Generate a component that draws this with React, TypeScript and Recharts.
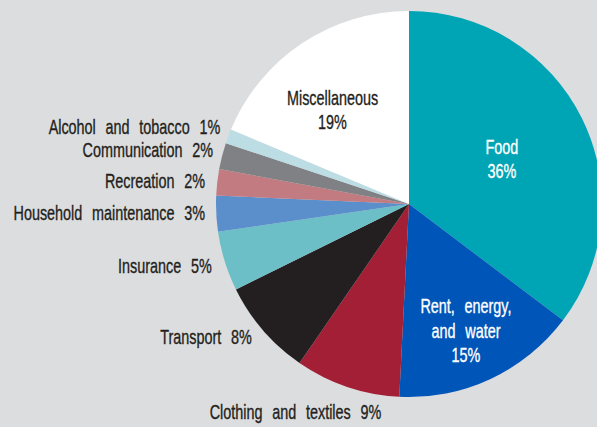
import { PieChart, Pie, Cell } from "recharts";

const CATEGORIES = [
  "Food",
  "Rent, energy, and water",
  "Clothing and textiles",
  "Transport",
  "Insurance",
  "Household maintenance",
  "Recreation",
  "Communication",
  "Alcohol and tobacco",
  "Miscellaneous",
];
// slice sizes as drawn
const SHARES = [35.3, 15.5, 8.8, 8.1, 5.0, 3.0, 2.2, 2.2, 1.2, 18.7];
// percentages as printed on the labels
const LABEL_PCT = [36, 15, 9, 8, 5, 3, 2, 2, 1, 19];
const COLORS = [
  "#00a5b5",
  "#0055b8",
  "#a31f36",
  "#231f20",
  "#6cbfc6",
  "#5b8fcb",
  "#c27b80",
  "#7f8184",
  "#bcdde3",
  "#ffffff",
];

const data = CATEGORIES.map((name, i) => ({ name, value: SHARES[i], pct: LABEL_PCT[i] }));

const FONT = "'Liberation Sans', Arial, sans-serif";
const FONT_SIZE = 20;
const SQUEEZE = 0.72;
const WORD_GAP = 8;
const RAD = Math.PI / 180;

// inside labels: radius factor, line breaks, nudge
const INSIDE: Record<string, { f: number; lines: string[]; color: string; dx: number; dy: number }> = {
  Food: { f: 0.535, lines: ["Food"], color: "#ffffff", dx: 0.5, dy: 1 },
  "Rent, energy, and water": {
    f: 0.72,
    lines: ["Rent, energy,", "and water"],
    color: "#ffffff",
    dx: -1.8,
    dy: 0.7,
  },
  Miscellaneous: { f: 0.628, lines: ["Miscellaneous"], color: "#231f20", dx: -9.3, dy: 6.9 },
};
// outside labels: nudge from the point just past the rim
const NUDGE: Record<string, [number, number, string]> = {
  "Clothing and textiles": [-49, 17.6, "middle"],
  Transport: [-5.2, 1.6, "end"],
  Insurance: [-5.4, 2.1, "end"],
  "Household maintenance": [-3.3, -0.8, "end"],
  Recreation: [-4.3, -0.3, "end"],
  Communication: [-1.3, -3.5, "end"],
  "Alcohol and tobacco": [-0.5, -6, "end"],
};

function renderLabel(props: any) {
  const { cx, cy, midAngle, outerRadius, name, payload } = props;
  const pct = payload?.pct ?? props.pct;
  const inside = INSIDE[name];
  if (inside) {
    const r = outerRadius * inside.f;
    const x = cx + r * Math.cos(-midAngle * RAD) + inside.dx;
    const y = cy + r * Math.sin(-midAngle * RAD) + inside.dy;
    const lines = [...inside.lines, `${pct}%`];
    const lh = 24.3;
    const y0 = -((lines.length - 1) * lh) / 2;
    return (
      <text
        x={0}
        y={y0}
        transform={`translate(${x},${y}) scale(${SQUEEZE},1)`}
        textAnchor="middle"
        dominantBaseline="central"
        fill={inside.color}
        stroke={inside.color}
        strokeWidth={0.35}
        fontFamily={FONT}
        fontSize={FONT_SIZE}
        wordSpacing={WORD_GAP}
      >
        {lines.map((l, i) => (
          <tspan key={i} x={0} dy={i === 0 ? 0 : lh}>
            {l}
          </tspan>
        ))}
      </text>
    );
  }
  const r = outerRadius + 8;
  const [dx, dy, anchor] = NUDGE[name] || [0, 0, "end"];
  const x = cx + r * Math.cos(-midAngle * RAD) + dx;
  const y = cy + r * Math.sin(-midAngle * RAD) + dy;
  return (
    <text
      x={0}
      y={0}
      transform={`translate(${x},${y}) scale(${SQUEEZE},1)`}
      textAnchor={anchor}
      dominantBaseline="central"
      fill="#231f20"
      stroke="#231f20"
      strokeWidth={0.35}
      fontFamily={FONT}
      fontSize={FONT_SIZE}
      wordSpacing={WORD_GAP}
    >
      {`${name} ${pct}%`}
    </text>
  );
}

export default function App() {
  return (
    <div style={{ position: "fixed", inset: 0, background: "#dcdddf" }}>
      <div style={{ position: "absolute", left: 0, top: 0 }}>
        <PieChart width={597} height={427} margin={{ top: 0, right: 0, bottom: 0, left: 0 }}>
          <Pie
            data={data}
            dataKey="value"
            nameKey="name"
            cx={409}
            cy={204}
            outerRadius={193}
            startAngle={90}
            endAngle={-270}
            stroke="none"
            label={renderLabel}
            labelLine={false}
            isAnimationActive={false}
          >
            {data.map((d, i) => (
              <Cell key={d.name} fill={COLORS[i]} />
            ))}
          </Pie>
        </PieChart>
      </div>
    </div>
  );
}
